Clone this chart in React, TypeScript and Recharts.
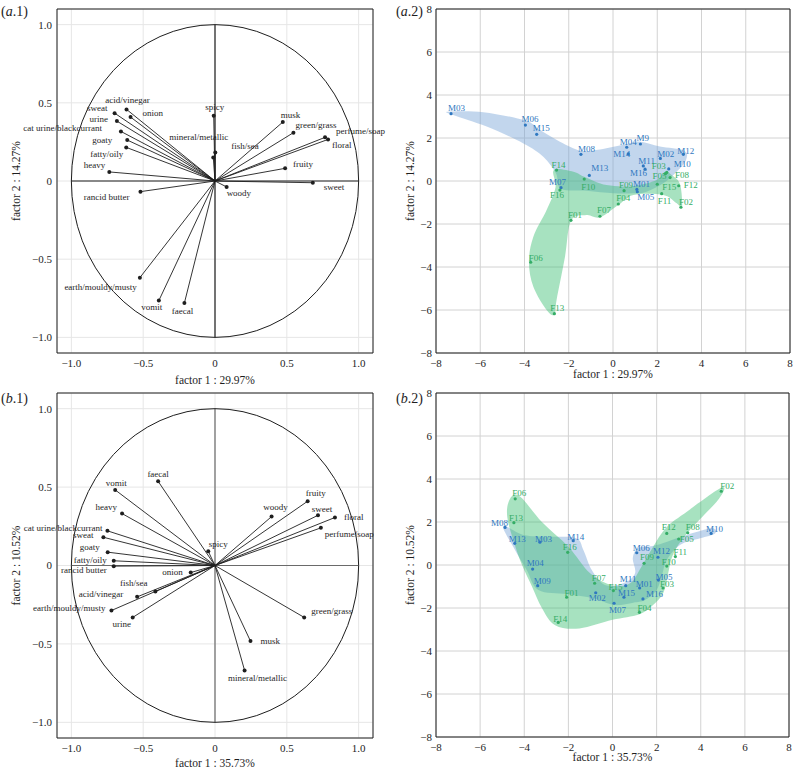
import React from 'react';
import { ScatterChart, Scatter, XAxis, YAxis, CartesianGrid, ReferenceLine } from 'recharts';

const FONT = "'Liberation Serif', 'Times New Roman', 'DejaVu Serif', serif";
const INK = '#1e1e1e';
const BLUE = '#2f78c0';
const GREEN = '#35ad66';
const BLUE_FILL = 'rgba(120,165,215,0.45)';
const GREEN_FILL = 'rgba(60,190,115,0.45)';

// ---------- (a.1) loadings ----------
const a1Odours = ['acid/vinegar', 'sweat', 'onion', 'urine', 'cat urine/blackcurrant', 'goaty', 'fatty/oily', 'heavy', 'spicy', 'mineral/metallic', 'fish/sea', 'musk', 'green/grass', 'perfume/soap', 'floral', 'fruity', 'sweet', 'woody', 'rancid butter', 'earth/mouldy/musty', 'vomit', 'faecal'];
const a1Factor1 = [-0.616, -0.699, -0.588, -0.683, -0.655, -0.611, -0.618, -0.736, -0.009, 0.002, -0.012, 0.472, 0.546, 0.766, 0.787, 0.488, 0.681, 0.081, -0.519, -0.523, -0.391, -0.213];
const a1Factor2 = [0.458, 0.434, 0.409, 0.383, 0.317, 0.262, 0.215, 0.058, 0.417, 0.183, 0.151, 0.377, 0.309, 0.279, 0.266, 0.081, -0.011, -0.038, -0.068, -0.618, -0.765, -0.78];

// ---------- (b.1) loadings ----------
const b1Odours = ['faecal', 'vomit', 'heavy', 'cat urine/blackcurrant', 'sweat', 'goaty', 'fatty/oily', 'rancid butter', 'spicy', 'onion', 'fish/sea', 'acid/vinegar', 'earth/mouldy/musty', 'urine', 'musk', 'mineral/metallic', 'green/grass', 'woody', 'fruity', 'sweet', 'floral', 'perfume/soap'];
const b1Factor1 = [-0.396, -0.695, -0.647, -0.749, -0.777, -0.747, -0.705, -0.705, -0.047, -0.169, -0.415, -0.542, -0.721, -0.573, 0.247, 0.206, 0.621, 0.394, 0.645, 0.717, 0.835, 0.737];
const b1Factor2 = [0.537, 0.482, 0.331, 0.221, 0.18, 0.085, 0.03, -0.004, 0.091, -0.045, -0.166, -0.2, -0.287, -0.331, -0.482, -0.669, -0.331, 0.312, 0.41, 0.32, 0.306, 0.24];

// ---------- (a.2) scores ----------
const a2MaleIds = ['M01', 'M02', 'M03', 'M04', 'M05', 'M06', 'M07', 'M08', 'M9', 'M10', 'M11', 'M12', 'M13', 'M14', 'M15', 'M16'];
const a2MaleF1 = [1.08, 2.14, -7.32, 0.62, 1.1, -3.96, -2.35, -1.45, 1.24, 2.52, 1.37, 3.18, -1.07, 0.69, -3.45, 1.45];
const a2MaleF2 = [-0.39, 1.05, 3.13, 1.57, -0.5, 2.6, -0.31, 1.24, 1.72, 0.56, 0.7, 1.24, 0.26, 1.26, 2.17, 0.55];
const a2FemaleIds = ['F01', 'F02', 'F03', 'F04', 'F05', 'F06', 'F07', 'F08', 'F09', 'F10', 'F11', 'F12', 'F13', 'F14', 'F15', 'F16'];
const a2FemaleF1 = [-1.9, 3.07, 2.43, 0.24, 2.37, -3.72, -0.59, 2.58, 0.5, -1.3, 2.2, 2.97, -2.65, -2.55, 2.0, -2.4];
const a2FemaleF2 = [-1.83, -1.22, 0.4, -1.07, 0.34, -3.78, -1.64, 0.16, -0.45, 0.09, -0.59, -0.22, -6.17, 0.51, -0.15, -0.42];
const a2MaleHull: [number, number][] = [[-7.44, 3.22], [-5.86, 3.2], [-3.96, 2.81], [-3.3, 2.37], [-2.4, 1.83], [-1.45, 1.41], [-0.59, 1.47], [0.62, 1.72], [1.24, 1.83], [2.12, 1.6], [3.21, 1.41], [3.3, 0.98], [2.88, 0.43], [2.27, -0.11], [1.52, -0.5], [0.92, -0.57], [0.02, -0.57], [-1.19, -0.45], [-2.35, -0.36], [-2.58, 0.36], [-3.15, 1.13], [-4.05, 1.75], [-5.71, 2.53], [-7.22, 3.07]];
const a2FemaleHull: [number, number][] = [[-2.67, 0.51], [-1.79, 0.43], [-1.3, 0.2], [-0.29, -0.19], [0.92, -0.23], [1.97, 0.05], [2.35, 0.43], [2.65, 0.28], [3.03, -0.15], [3.12, -1.22], [2.88, -1.04], [2.27, -0.65], [0.92, -0.65], [0.24, -1.12], [-0.59, -1.69], [-1.19, -1.58], [-1.9, -1.85], [-2.17, -3.52], [-2.55, -5.53], [-2.65, -6.22], [-3.0, -6.0], [-3.6, -4.92], [-3.8, -3.75], [-3.6, -2.59], [-3.0, -1.35], [-2.6, -0.3]];

// ---------- (b.2) scores ----------
const b2MaleIds = ['M01', 'M02', 'M03', 'M04', 'M05', 'M06', 'M07', 'M08', 'M09', 'M10', 'M11', 'M12', 'M13', 'M14', 'M15', 'M16'];
const b2MaleF1 = [1.23, -0.76, -3.29, -3.62, 2.08, 1.1, 0.07, -4.87, -3.39, 4.47, 0.6, 2.06, -4.43, -1.78, 0.52, 1.38];
const b2MaleF2 = [-1.07, -1.29, 1.06, -0.19, -0.7, 0.57, -1.78, 1.75, -0.96, 1.47, -0.96, 0.36, 1.01, 1.13, -1.5, -1.58];
const b2FemaleIds = ['F01', 'F02', 'F03', 'F04', 'F05', 'F06', 'F07', 'F08', 'F09', 'F10', 'F11', 'F12', 'F13', 'F14', 'F15', 'F16'];
const b2FemaleF1 = [-2.08, 4.93, 2.29, 1.22, 3.0, -4.41, -0.81, 3.41, 1.43, 2.46, 2.85, 2.46, -4.47, -2.46, 0.04, -2.03];
const b2FemaleF2 = [-1.5, 3.43, -1.07, -2.2, 1.21, 3.08, -0.85, 1.5, 0.08, -0.05, 0.39, 1.47, 1.97, -2.67, -1.19, 0.59];
const b2MaleHull: [number, number][] = [[-4.95, 1.81], [-4.5, 0.85], [-3.89, -0.23], [-3.36, -1.16], [-2.08, -1.35], [-0.87, -1.55], [0.07, -1.86], [0.94, -1.75], [1.47, -1.63], [2.0, -1.16], [2.23, -0.54], [2.46, 0.23], [3.06, 0.93], [3.97, 1.24], [4.65, 1.47], [4.5, 1.71], [3.36, 1.4], [2.0, 0.93], [1.17, 0.78], [0.92, 0.31], [1.02, -0.39], [0.49, -0.85], [-0.34, -0.93], [-0.94, -0.23], [-1.32, 0.7], [-1.65, 1.24], [-2.83, 1.32], [-4.04, 1.4]];
const b2FemaleHull: [number, number][] = [[-4.5, 3.25], [-4.1, 3.1], [-3.2, 2.0], [-2.0, 0.85], [-1.0, -0.4], [0.0, -0.95], [0.8, -0.85], [1.3, -0.1], [1.7, 0.6], [2.4, 1.7], [3.4, 2.5], [4.95, 3.6], [4.8, 3.05], [3.4, 1.5], [2.75, 0.5], [2.5, -0.5], [2.3, -1.3], [1.8, -1.9], [1.2, -2.3], [0.0, -2.55], [-1.5, -2.95], [-2.6, -2.8], [-3.2, -2.0], [-3.65, -1.0], [-4.1, 0.0], [-4.45, 1.0], [-4.75, 2.1], [-4.75, 2.8]];

// ---------- axis ticks ----------
const loadMajor = [-1, -0.5, 0, 0.5, 1];
const loadMinor = [-1.1, -0.9, -0.8, -0.7, -0.6, -0.4, -0.3, -0.2, -0.1, 0.1, 0.2, 0.3, 0.4, 0.6, 0.7, 0.8, 0.9, 1.1];
const scoreMajor = [-8, -6, -4, -2, 0, 2, 4, 6, 8];
const scoreMinor = [-7, -5, -3, -1, 1, 3, 5, 7];
const unitCircleAnchors = [{ x: 1, y: 0 }, { x: 0, y: 1 }, { x: -1, y: 0 }, { x: 0, y: -1 }];

// ---------- label placement (layout only) ----------
type Place = [string, number, number];
const a1Place: Record<string, Place> = {
  'acid/vinegar': ['middle', 1, -9], 'sweat': ['end', -7, -5], 'onion': ['start', 12, -4], 'urine': ['end', -9, -2],
  'cat urine/blackcurrant': ['end', -19, -3], 'goaty': ['end', -15, 0], 'fatty/oily': ['end', -3, 7], 'heavy': ['end', -4, -7],
  'spicy': ['middle', 1, -9], 'mineral/metallic': ['end', 13, -15], 'fish/sea': ['start', 18, -11], 'musk': ['start', -2, -7],
  'green/grass': ['start', 2, -8], 'perfume/soap': ['start', 11, -6], 'floral': ['start', 4, 6], 'fruity': ['start', 8, -4],
  'sweet': ['start', 11, 4], 'woody': ['start', 0, 6], 'rancid butter': ['end', -11, 5], 'earth/mouldy/musty': ['end', -3, 9],
  'vomit': ['middle', -7, 6], 'faecal': ['middle', -2, 8],
};
const b1Place: Record<string, Place> = {
  'faecal': ['middle', 0, -7], 'vomit': ['middle', 1, -7], 'heavy': ['end', -5, -7], 'woody': ['middle', 4, -10],
  'fruity': ['middle', 8, -8], 'sweet': ['middle', 4, -6], 'floral': ['start', 9, -1], 'perfume/soap': ['start', 4, 6],
  'cat urine/blackcurrant': ['end', -5, -3], 'sweat': ['end', -10, -2], 'goaty': ['end', -8, -5], 'fatty/oily': ['end', -7, -1],
  'rancid butter': ['end', -7, 4], 'spicy': ['middle', 10, -7], 'onion': ['end', -8, -1], 'fish/sea': ['end', -8, -9],
  'acid/vinegar': ['end', -14, -3], 'earth/mouldy/musty': ['end', -6, -3], 'urine': ['middle', -11, 7], 'musk': ['start', 10, 0],
  'mineral/metallic': ['middle', 13, 8], 'green/grass': ['start', 7, -6],
};
const a2Offsets: Record<string, [number, number]> = {
  M01: [-4, -5], M02: [-3, -4], M03: [-3, -6], M04: [-7, -5], M05: [0, 5], M06: [-4, -6], M07: [-12, -6], M08: [-3, -5],
  M9: [-4, -6], M10: [5, -5], M11: [-5, -5], M12: [-6, -3], M13: [2, -7], M14: [-15, 0], M15: [-4, -6], M16: [-15, 4],
  F01: [-3, -5], F02: [-2, -5], F03: [-15, -6], F04: [-2, -6], F05: [-13, 2], F06: [-2, -4], F07: [-3, -6], F08: [5, -3],
  F09: [-5, -6], F10: [-3, 8], F11: [-4, 7], F12: [5, -1], F13: [-4, -6], F14: [-5, -5], F15: [5, 3], F16: [-10, 5],
};
const b2Offsets: Record<string, [number, number]> = {
  F06: [-3, -6], F13: [-5, -5], M08: [-14, -4], M13: [-6, -4], M03: [-5, -3], M14: [-6, -4], F16: [-5, -5], M04: [-6, -6],
  M09: [-4, -5], F07: [-3, -5], F01: [-2, -4], M02: [-7, 5], F15: [-5, -4], M07: [-5, 7], M11: [-6, -7], M15: [-6, -4],
  M01: [-4, -4], M16: [3, -5], F04: [-2, -4], M05: [-3, -3], F03: [-3, -4], F10: [-5, -4], F09: [-4, -6], M06: [-4, -5],
  M12: [-5, -6], F11: [-2, -5], F12: [-5, -6], F08: [-2, -6], F05: [1, 0], M10: [-5, -4], F02: [-1, -5], F14: [-5, -3],
};

// ---------- helpers ----------
const zip = (names: string[], xs: number[], ys: number[]) => names.map((name, i) => ({ name, x: xs[i], y: ys[i] }));
const toPts = (arr: [number, number][]) => arr.map(([x, y]) => ({ x, y }));

function smoothClosedPath(pts: { x: number; y: number }[]) {
  const n = pts.length;
  if (!n) return '';
  let d = `M${pts[0].x},${pts[0].y}`;
  for (let i = 0; i < n; i++) {
    const p0 = pts[(i - 1 + n) % n];
    const p1 = pts[i];
    const p2 = pts[(i + 1) % n];
    const p3 = pts[(i + 2) % n];
    const c1x = p1.x + (p2.x - p0.x) / 6;
    const c1y = p1.y + (p2.y - p0.y) / 6;
    const c2x = p2.x - (p3.x - p1.x) / 6;
    const c2y = p2.y - (p3.y - p1.y) / 6;
    d += `C${c1x},${c1y} ${c2x},${c2y} ${p2.x},${p2.y}`;
  }
  return d + 'Z';
}

const TXT = { fontFamily: FONT };
const hidden = () => <g />;
const hullLine = (fill: string) => (props: any) => <path d={smoothClosedPath(props.points || [])} fill={fill} stroke="none" />;
const ellipseLine = (props: any) => {
  const p = props.points || [];
  if (p.length < 4) return <g />;
  return (
    <ellipse cx={(p[0].x + p[2].x) / 2} cy={(p[1].y + p[3].y) / 2} rx={Math.abs(p[0].x - p[2].x) / 2} ry={Math.abs(p[3].y - p[1].y) / 2} fill="none" stroke={INK} strokeWidth={1} />
  );
};

const loadingShape = (place: Record<string, Place>) => (props: any) => {
  const { cx, cy, payload } = props;
  const pl = place[payload.name] || ['start', 4, -4];
  return (
    <g>
      <circle cx={cx} cy={cy} r={2} fill={INK} />
      <text x={cx + pl[1]} y={cy + pl[2] + 3} textAnchor={pl[0] as any} fontSize={9} style={TXT} fill={INK}>{payload.name}</text>
    </g>
  );
};

const scoreShape = (color: string, offsets: Record<string, [number, number]>) => (props: any) => {
  const { cx, cy, payload } = props;
  const off = offsets[payload.name] || [-3, -5];
  return (
    <g>
      <circle cx={cx} cy={cy} r={1.6} fill={color} />
      <text x={cx + off[0]} y={cy + off[1] + 3} fontSize={9} style={TXT} fill={color}>{payload.name}</text>
    </g>
  );
};

const fmtLoad = (v: number) => (v === 0 ? '0' : (v < 0 ? '\u2212' : '') + Math.abs(v).toFixed(1));
const fmtScore = (v: number) => (v < 0 ? '\u2212' + Math.abs(v) : String(v));
const TICK_TEXT = { fontSize: 11, fill: INK, style: TXT };

type FrameOpts = {
  domain: [number, number]; major: number[]; minor: number[]; fmt: (v: number) => string;
  xTitle: string; yTitle: string; yWidth: number; yTitleDx: number; xTitleDy: number; grid: string; ySize: number;
};

function frameAxes(o: FrameOpts) {
  const xTitle = (p: any) => {
    const vb = p.viewBox || {};
    return (
      <text x={vb.x + vb.width / 2} y={vb.y + o.xTitleDy} textAnchor="middle" fontSize={11.5} style={TXT} fill={INK}>{o.xTitle}</text>
    );
  };
  const yTitle = (p: any) => {
    const vb = p.viewBox || {};
    const x = vb.x + o.yTitleDx;
    const y = vb.y + vb.height / 2;
    return (
      <text x={x} y={y} transform={`rotate(-90 ${x} ${y})`} textAnchor="middle" dominantBaseline="central" fontSize={11.5} style={TXT} fill={INK}>{o.yTitle}</text>
    );
  };
  const allTicks = [...o.major, ...o.minor];
  return [
    <CartesianGrid key="grid" stroke={o.grid} strokeWidth={1} />,
    <XAxis key="x" type="number" dataKey="x" domain={o.domain} ticks={o.major} interval={0} tickFormatter={o.fmt} tick={TICK_TEXT} tickLine={false} tickSize={4} tickMargin={2} axisLine={{ stroke: INK }} height={35} label={{ content: xTitle }} />,
    <XAxis key="xm" xAxisId="xm" orientation="bottom" mirror type="number" domain={o.domain} ticks={allTicks} interval={0} allowDataOverflow tick={false} axisLine={false} tickSize={3} tickLine={{ stroke: INK }} />,
    <XAxis key="xt" xAxisId="xt" orientation="top" mirror type="number" domain={o.domain} ticks={allTicks} interval={0} allowDataOverflow tick={false} axisLine={{ stroke: INK }} tickSize={3} tickLine={{ stroke: INK }} />,
    <YAxis key="y" type="number" dataKey="y" domain={o.domain} ticks={o.major} interval={0} tickFormatter={o.fmt} tick={TICK_TEXT} tickLine={false} tickSize={o.ySize} tickMargin={2} axisLine={{ stroke: INK }} width={o.yWidth} label={{ content: yTitle }} />,
    <YAxis key="ym" yAxisId="ym" orientation="left" mirror type="number" domain={o.domain} ticks={allTicks} interval={0} allowDataOverflow tick={false} axisLine={false} tickSize={3} tickLine={{ stroke: INK }} />,
    <YAxis key="yr" yAxisId="yr" orientation="right" mirror type="number" domain={o.domain} ticks={allTicks} interval={0} allowDataOverflow tick={false} axisLine={{ stroke: INK }} tickSize={3} tickLine={{ stroke: INK }} />,
  ];
}

function LoadingsPanel(props: { data: { name: string; x: number; y: number }[]; place: Record<string, Place>; xTitle: string; yTitle: string; height: number; margin: any; xTitleDy: number; cross: string }) {
  const { data } = props;
  return (
    <ScatterChart width={397} height={props.height} margin={props.margin}>
      {frameAxes({ domain: [-1.1, 1.1], major: loadMajor, minor: loadMinor, fmt: fmtLoad, xTitle: props.xTitle, yTitle: props.yTitle, yWidth: 50, yTitleDx: 9, xTitleDy: props.xTitleDy, grid: '#e6e6e6', ySize: 3 })}
      <ReferenceLine segment={[{ x: -1, y: 0 }, { x: 1, y: 0 }]} stroke={props.cross} strokeWidth={1.2} />
      <ReferenceLine segment={[{ x: 0, y: -1 }, { x: 0, y: 1 }]} stroke={props.cross} strokeWidth={1.2} />
      {data.map((d) => (
        <ReferenceLine key={d.name} segment={[{ x: 0, y: 0 }, { x: d.x, y: d.y }]} stroke={INK} strokeWidth={0.9} />
      ))}
      <Scatter data={unitCircleAnchors} shape={hidden} line={ellipseLine} isAnimationActive={false} />
      <Scatter data={data} shape={loadingShape(props.place)} isAnimationActive={false} />
    </ScatterChart>
  );
}

function ScoresPanel(props: { males: any[]; females: any[]; maleHull: any[]; femaleHull: any[]; offsets: Record<string, [number, number]>; xTitle: string; yTitle: string; height: number; margin: any; xTitleDy: number }) {
  return (
    <ScatterChart width={397} height={props.height} margin={props.margin}>
      {frameAxes({ domain: [-8, 8], major: scoreMajor, minor: scoreMinor, fmt: fmtScore, xTitle: props.xTitle, yTitle: props.yTitle, yWidth: 30, yTitleDx: 4, xTitleDy: props.xTitleDy, grid: '#d2d2d2', ySize: 2 })}
      <Scatter data={props.maleHull} shape={hidden} line={hullLine(BLUE_FILL)} isAnimationActive={false} />
      <Scatter data={props.femaleHull} shape={hidden} line={hullLine(GREEN_FILL)} isAnimationActive={false} />
      <Scatter data={props.males} shape={scoreShape(BLUE, props.offsets)} isAnimationActive={false} />
      <Scatter data={props.females} shape={scoreShape(GREEN, props.offsets)} isAnimationActive={false} />
    </ScatterChart>
  );
}

const panelTag = (letter: string, num: string, left: number, top: number) => (
  <div style={{ position: 'absolute', left, top, fontSize: 14, lineHeight: '18px', fontFamily: FONT, color: INK }}>
    (<i>{letter}</i>.{num})
  </div>
);

export default function App() {
  const a1 = zip(a1Odours, a1Factor1, a1Factor2);
  const b1 = zip(b1Odours, b1Factor1, b1Factor2);
  return (
    <div style={{ position: 'absolute', left: 0, top: 0, width: 794, height: 773, background: '#fff', fontFamily: FONT, overflow: 'hidden' }}>
      <style>{`svg text { font-family: ${FONT}; }`}</style>
      <div style={{ position: 'absolute', left: 0, top: 0 }}>
        <LoadingsPanel data={a1} place={a1Place} xTitle="factor 1 : 29.97%" yTitle="factor 2 : 14.27%" height={390} margin={{ top: 9, right: 24, left: 7, bottom: 2 }} xTitleDy={31} cross={INK} />
      </div>
      <div style={{ position: 'absolute', left: 397, top: 0 }}>
        <ScoresPanel males={zip(a2MaleIds, a2MaleF1, a2MaleF2)} females={zip(a2FemaleIds, a2FemaleF1, a2FemaleF2)} maleHull={toPts(a2MaleHull)} femaleHull={toPts(a2FemaleHull)} offsets={a2Offsets} xTitle="factor 1 : 29.97%" yTitle="factor 2 : 14.27%" height={390} margin={{ top: 9, right: 4, left: 9, bottom: 2 }} xTitleDy={25} />
      </div>
      <div style={{ position: 'absolute', left: 0, top: 384 }}>
        <LoadingsPanel data={b1} place={b1Place} xTitle="factor 1 : 35.73%" yTitle="factor 2 : 10.52%" height={389} margin={{ top: 9, right: 24, left: 7, bottom: 0 }} xTitleDy={29} cross="#6a6a6a" />
      </div>
      <div style={{ position: 'absolute', left: 397, top: 384 }}>
        <ScoresPanel males={zip(b2MaleIds, b2MaleF1, b2MaleF2)} females={zip(b2FemaleIds, b2FemaleF1, b2FemaleF2)} maleHull={toPts(b2MaleHull)} femaleHull={toPts(b2FemaleHull)} offsets={b2Offsets} xTitle="factor 1 : 35.73%" yTitle="factor 2 : 10.52%" height={389} margin={{ top: 9, right: 5, left: 9, bottom: 1 }} xTitleDy={24} />
      </div>
      {panelTag('a', '1', 1, 3)}
      {panelTag('a', '2', 396, 3)}
      {panelTag('b', '1', 1, 390)}
      {panelTag('b', '2', 396, 390)}
    </div>
  );
}
